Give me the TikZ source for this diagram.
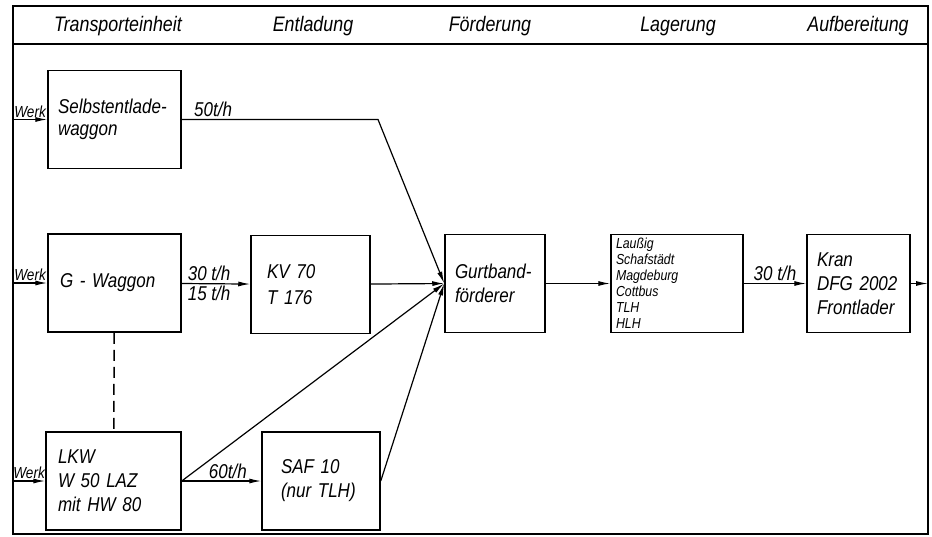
\documentclass[tikz,border=0pt]{standalone}
\usepackage{fontspec}
\setmainfont{Liberation Sans}[FakeStretch=0.85]
\usetikzlibrary{arrows.meta}

\begin{document}
\begin{tikzpicture}[x=1pt, y=-1pt,
    boxnode/.style={draw, line width=1.5pt, inner xsep=10pt, inner ysep=0pt, minimum height=98pt, align=left, font=\fontsize{20}{24}\selectfont\itshape},
    flowline/.style={line width=1.2pt, -{Latex[length=12pt,width=5pt]}},
    rate/.style={font=\fontsize{20}{22}\selectfont\itshape, inner sep=2pt},
    head/.style={font=\fontsize{21}{24}\selectfont\itshape},
    werk/.style={font=\fontsize{16}{17}\selectfont\itshape, inner sep=1.5pt}]

  \useasboundingbox (0,0) rectangle (932,536);

  % Rahmen und Kopfzeile
  \draw[line width=1.2pt] (13,6) rectangle (928,534);
  \draw[line width=1.2pt] (13,44) -- (928,44);
  \node[head] (h1) at (118,26) {Transporteinheit};
  \node[head] (h2) at (313,26) {Entladung};
  \node[head] (h3) at (490,26) {Förderung};
  \node[head] (h4) at (678,26) {Lagerung};
  \node[head] (h5) at (858,26) {Aufbereitung};

  % Kaesten
  \node[boxnode, text width=113pt, font=\fontsize{20}{22}\selectfont\itshape] (selbst) at (114.5,119.5) {Selbstentlade-\\waggon};
  \node[boxnode, text width=109pt, inner xsep=12pt] (gwag) at (114.5,283) {G - Waggon};
  \node[boxnode, text width=87pt, inner xsep=16pt, font=\fontsize{20}{26}\selectfont\itshape] (kv) at (310.5,284.5) {KV 70\\T 176};
  \node[boxnode, text width=111pt, inner xsep=12pt] (lkw) at (113.5,481) {LKW\\W 50 LAZ\\mit HW 80};
  \node[boxnode, text width=80pt, inner xsep=19pt] (saf) at (321,481) {SAF 10\\(nur TLH)};
  \node[boxnode, text width=80pt] (gurt) at (495,283.5) {Gurtband-\\förderer};
  \node[boxnode, text width=122pt, inner xsep=5pt, font=\fontsize{14.5}{16}\selectfont\itshape] (lager) at (677,283.5)
    {Laußig\\Schafstädt\\Magdeburg\\Cottbus\\TLH\\HLH};
  \node[boxnode, text width=83pt] (kran) at (858.5,283.5) {Kran\\DFG 2002\\Frontlader};

  % Hilfspunkte
  \coordinate (werk1) at (13,119.5);
  \coordinate (werk2) at (13,283);
  \coordinate (werk3) at (13,481);
  \coordinate (knick) at (378,119.5);
  \coordinate (aus) at (928,283.5);

  % Zulauf aus dem Werk
  \draw[flowline] (werk1) -- node[werk, above] {Werk} (selbst);
  \draw[flowline] (werk2) -- node[werk, above] {Werk} (gwag);
  \draw[flowline] (werk3) -- node[werk, above] {Werk} (lkw);

  % Stroeme
  \draw[flowline] (selbst.east) -- node[rate, above, pos=0.16] {50t/h} (knick) -- (gurt.west);
  \draw[flowline] (gwag) -- node[rate, above, pos=0.4] {30 t/h} node[rate, below, pos=0.4] {15 t/h} (kv);
  \draw[flowline] (kv) -- (gurt.west);
  \draw[flowline] (lkw) -- node[rate, above, pos=0.58] {60t/h} (saf);
  \draw[flowline] (lkw.east) -- (gurt.west);
  \draw[flowline] (saf.east) -- (gurt.west);
  \draw[line width=1.5pt, dash pattern=on 11pt off 6pt] (gwag) -- (lkw);
  \draw[flowline] (gurt) -- (lager);
  \draw[flowline] (lager) -- node[rate, above] {30 t/h} (kran);
  \draw[flowline] (kran) -- (aus);
\end{tikzpicture}
\end{document}
